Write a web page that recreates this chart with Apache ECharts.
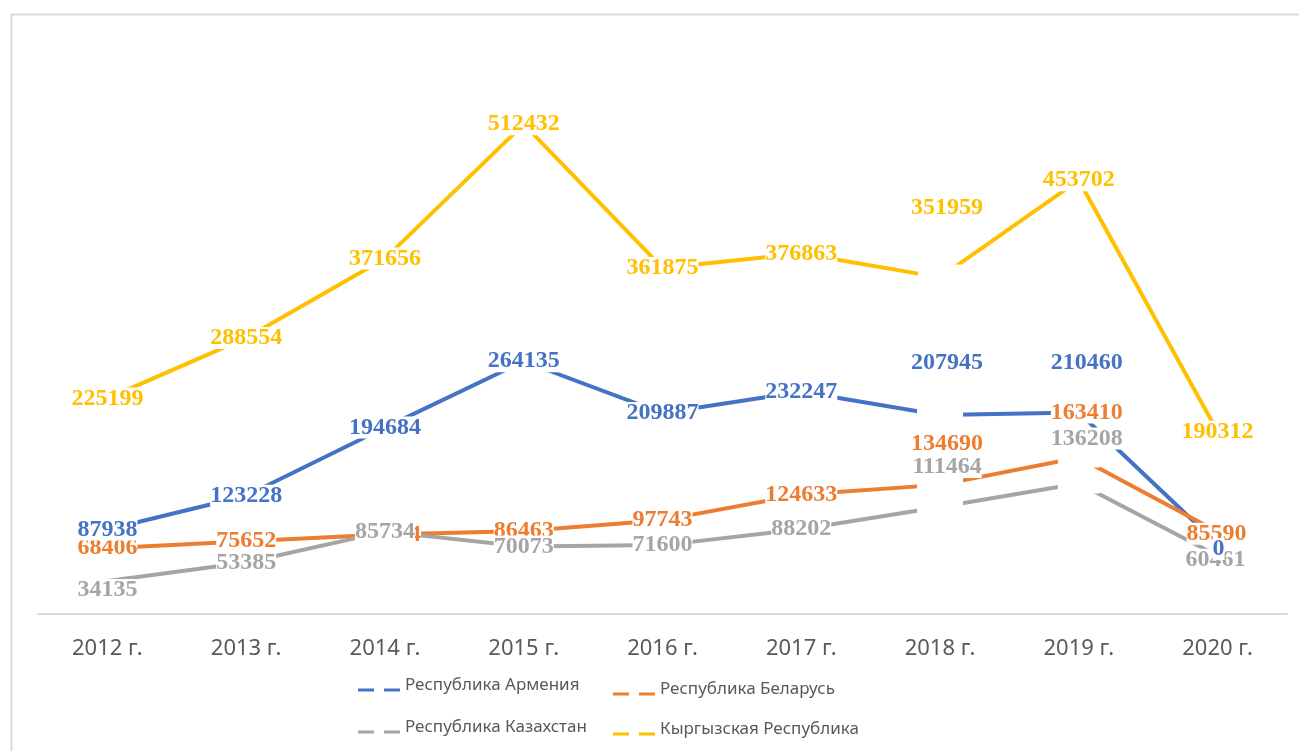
<!DOCTYPE html>
<html><head><meta charset="utf-8">
<script src="https://cdn.jsdelivr.net/npm/echarts@6/dist/echarts.min.js"></script>
<style>html,body{margin:0;padding:0;background:#fff}#c{width:1299px;height:751px}</style>
</head><body><div id="c"></div>
<script>
// ---- data ----
const years = ['2012 г.','2013 г.','2014 г.','2015 г.','2016 г.','2017 г.','2018 г.','2019 г.','2020 г.'];
const seriesNames = ['Республика Армения','Республика Беларусь','Республика Казахстан','Кыргызская Республика'];
const armenia    = [87938, 123228, 194684, 264135, 209887, 232247, 207945, 210460, 72800];
const belarus    = [68406, 75652, 82734, 86463, 97743, 124633, 134690, 163410, 85590];
const kazakhstan = [34135, 53385, 85734, 70073, 71600, 88202, 111464, 136208, 60461];
const kyrgyzstan = [225199, 288554, 371656, 512432, 361875, 376863, 351959, 453702, 190312];
// label text shown in the reference where it differs from the plotted value
const labelText = [{8: '0'}, {}, {}, {}];

// ---- styling ----
const colors = ['#4472C4', '#ED7D31', '#A5A5A5', '#FFC000'];
const allValues = [armenia, belarus, kazakhstan, kyrgyzstan];
// label offsets [dx, dy] for labels moved off their points
const labelShift = [
  {6: [7, -52], 7: [8, -50], 8: [1, 5]},
  {2: [6, 0], 6: [7, -41], 7: [8, -45], 8: [-1, 2]},
  {0: [0, 9], 6: [7, -40], 7: [8, -45], 8: [-2, 4]},
  {6: [7, -70]}
];
// points where the line is broken by an (empty) white box
const gapBox = [
  {6: [46, 20], 7: [42, 20]},
  {6: [46, 20], 7: [42, 20]},
  {6: [46, 20], 7: [42, 20]},
  {6: [44, 26]}
];
// order in which the label layers are stacked (last on top)
const labelOrder = [1, 2, 3, 0];

const lineSeries = allValues.map((vals, s) => ({
  name: seriesNames[s],
  type: 'line',
  z: 2,
  silent: true,
  symbol: 'none',
  lineStyle: {color: colors[s], width: 4, cap: 'butt'},
  itemStyle: {color: colors[s]},
  data: vals.map((v, i) => gapBox[s][i]
    ? {value: v, symbol: 'rect', symbolSize: gapBox[s][i], itemStyle: {color: '#ffffff', borderWidth: 0}}
    : v)
}));

const labelSeries = labelOrder.map(s => ({
  name: seriesNames[s],
  type: 'line',
  z: 3,
  silent: true,
  symbol: 'circle',
  symbolSize: 1,
  showSymbol: true,
  lineStyle: {opacity: 0, width: 0},
  itemStyle: {color: 'rgba(0,0,0,0)'},
  label: {
    show: true,
    position: 'inside',
    color: colors[s],
    fontFamily: 'Liberation Serif',
    fontWeight: 'bold',
    fontSize: 24,
    lineHeight: 22,
    backgroundColor: '#ffffff',
    padding: 0,
    formatter: p => (labelText[s][p.dataIndex] !== undefined ? labelText[s][p.dataIndex] : String(p.value))
  },
  data: allValues[s].map((v, i) => labelShift[s][i] ? {value: v, label: {offset: labelShift[s][i]}} : v)
}));

const legendIcon = 'path://M0,0M0,9H16V12H0ZM26,9H42V12H26Z';
const legendText = {fontFamily: 'Noto Sans', fontSize: 17, color: '#595959'};

const chart = echarts.init(document.getElementById('c'), null, {renderer: 'canvas'});
chart.setOption({
  animation: false,
  backgroundColor: '#ffffff',
  graphic: [{
    type: 'rect', left: 9, top: 12, silent: true,
    shape: {width: 1400, height: 800},
    style: {fill: 'none', stroke: '#d9d9d9', lineWidth: 2}
  }],
  grid: {left: 38, right: 12, top: 40.5, bottom: 137.5, containLabel: false},
  xAxis: {
    type: 'category',
    data: years,
    boundaryGap: true,
    axisLine: {lineStyle: {color: '#d9d9d9', width: 2}},
    axisTick: {show: false},
    axisLabel: {interval: 0, margin: 24, color: '#595959', fontFamily: 'Noto Sans', fontSize: 22}
  },
  yAxis: {
    type: 'value', min: 0, max: 600000, interval: 100000,
    show: false, splitLine: {show: false}
  },
  legend: [
    {data: [seriesNames[0], seriesNames[2]], orient: 'vertical', left: 353, top: 672,
     itemWidth: 42, itemHeight: 12, itemGap: 25, icon: legendIcon, selectedMode: false,
     textStyle: legendText},
    {data: [seriesNames[1], seriesNames[3]], orient: 'vertical', left: 608, top: 676,
     itemWidth: 42, itemHeight: 12, itemGap: 23, icon: legendIcon, selectedMode: false,
     textStyle: legendText}
  ],
  series: lineSeries.concat(labelSeries)
});
</script></body></html>
